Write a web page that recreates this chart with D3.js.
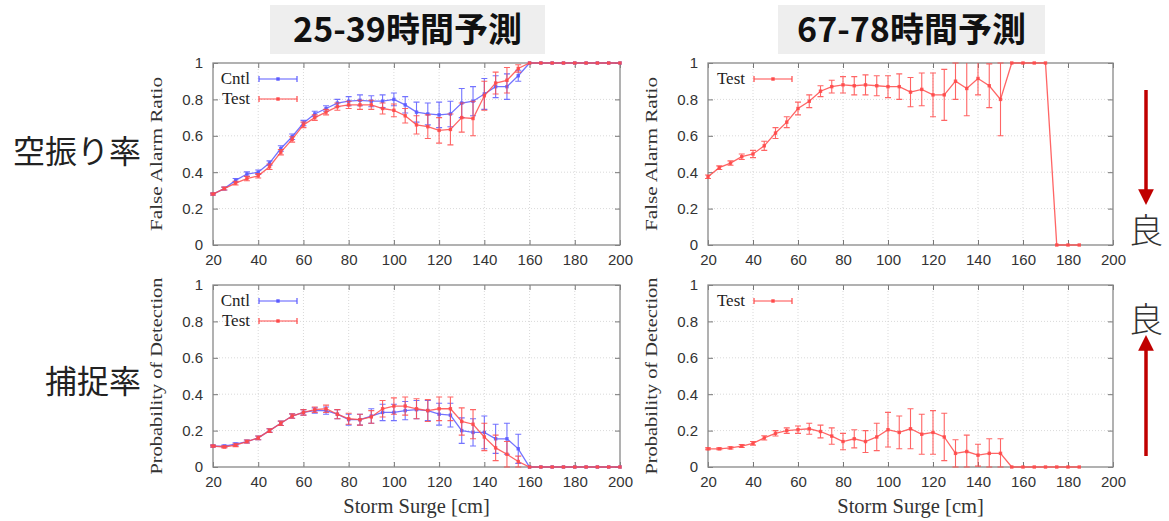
<!DOCTYPE html>
<html><head><meta charset="utf-8">
<script src="https://cdn.jsdelivr.net/npm/d3@7"></script>
<style>body{margin:0;background:#fff;}svg{display:block;}</style>
</head><body>
<svg id="c" width="1169" height="521"></svg>
<script>
// ---- data ----
const titles = ["25-39時間予測", "67-78時間予測"];
const rowLabels = ["空振り率", "捕捉率"];
const xTicks = [20, 40, 60, 80, 100, 120, 140, 160, 180, 200];
const yTicks = [0, 0.2, 0.4, 0.6, 0.8, 1];
const yTickLabels = ["0", "0.2", "0.4", "0.6", "0.8", "1"];
const xLabel = "Storm Surge [cm]";
const yLabels = ["False Alarm Ratio", "Probability of Detection"];

const surgeA = [20,25,30,35,40,45,50,55,60,65,70,75,80,85,90,95,100,105,110,115,120,125,130,135,140,145,150,155,160,165,170,175,180,185,190,195,200];
const surgeB = [20,25,30,35,40,45,50,55,60,65,70,75,80,85,90,95,100,105,110,115,120,125,130,135,140,145,150,155,160,165,170,175,180,185];

// FAR 25-39h
const farCntl = [0.28,0.31,0.355,0.39,0.40,0.45,0.53,0.595,0.67,0.72,0.75,0.78,0.79,0.795,0.79,0.79,0.80,0.77,0.73,0.72,0.715,0.72,0.78,0.79,0.83,0.87,0.87,0.93,1,1,1,1,1,1,1,1,1];
const farCntlErr = [0.005,0.008,0.01,0.012,0.012,0.012,0.015,0.015,0.015,0.015,0.015,0.02,0.025,0.03,0.03,0.035,0.035,0.045,0.055,0.06,0.07,0.07,0.08,0.08,0.085,0.06,0.07,0.03,0,0,0,0,0,0,0,0,0];
const farTest = [0.28,0.31,0.34,0.365,0.38,0.43,0.51,0.58,0.66,0.70,0.73,0.76,0.77,0.77,0.77,0.75,0.74,0.71,0.66,0.65,0.63,0.635,0.70,0.695,0.82,0.89,0.905,0.97,1,1,1,1,1,1,1,1,1];
const farTestErr = [0.005,0.008,0.01,0.012,0.012,0.015,0.015,0.015,0.015,0.015,0.015,0.02,0.02,0.025,0.025,0.03,0.035,0.04,0.05,0.065,0.07,0.085,0.08,0.095,0.08,0.06,0.07,0.02,0,0,0,0,0,0,0,0,0];
// POD 25-39h
const podCntl = [0.115,0.115,0.125,0.14,0.16,0.20,0.24,0.28,0.30,0.31,0.31,0.29,0.26,0.26,0.28,0.30,0.30,0.31,0.315,0.31,0.29,0.285,0.20,0.19,0.19,0.155,0.155,0.10,0,0,0,0,0,0,0,0,0];
const podCntlErr = [0.005,0.006,0.008,0.008,0.01,0.01,0.012,0.012,0.015,0.015,0.02,0.025,0.03,0.03,0.04,0.045,0.045,0.05,0.05,0.055,0.06,0.065,0.07,0.075,0.09,0.08,0.085,0.08,0,0,0,0,0,0,0,0,0];
const podTest = [0.115,0.11,0.12,0.14,0.16,0.20,0.24,0.28,0.30,0.315,0.32,0.29,0.265,0.26,0.275,0.32,0.335,0.335,0.32,0.31,0.32,0.32,0.25,0.235,0.165,0.105,0.07,0.03,0,0,0,0,0,0,0,0,0];
const podTestErr = [0.005,0.006,0.008,0.008,0.01,0.01,0.012,0.012,0.015,0.015,0.02,0.025,0.03,0.03,0.035,0.045,0.045,0.05,0.055,0.06,0.065,0.065,0.075,0.08,0.075,0.07,0.07,0.03,0,0,0,0,0,0,0,0,0];
// FAR 67-78h
const farTestB = [0.375,0.425,0.45,0.485,0.50,0.545,0.615,0.675,0.75,0.79,0.845,0.87,0.88,0.875,0.88,0.875,0.87,0.87,0.84,0.855,0.825,0.825,0.90,0.86,0.915,0.875,0.80,1,1,1,1,0,0,0];
const farTestBErr = [0.01,0.01,0.012,0.015,0.02,0.025,0.03,0.03,0.035,0.035,0.03,0.035,0.045,0.05,0.055,0.055,0.06,0.07,0.08,0.09,0.12,0.14,0.10,0.15,0.09,0.12,0.20,0,0,0,0,0,0,0];
// POD 67-78h
const podTestB = [0.10,0.10,0.105,0.115,0.13,0.16,0.185,0.20,0.205,0.21,0.195,0.17,0.14,0.155,0.14,0.165,0.205,0.19,0.21,0.18,0.19,0.165,0.075,0.085,0.065,0.075,0.075,0,0,0,0,0,0,0,0,0,0].slice(0,34);
const podTestBErr = [0.005,0.005,0.006,0.008,0.01,0.012,0.015,0.015,0.02,0.03,0.035,0.045,0.045,0.05,0.06,0.075,0.095,0.09,0.11,0.11,0.12,0.13,0.075,0.09,0.06,0.08,0.08,0,0,0,0,0,0,0];

const BLUE = "#5b5bff", RED = "#ff4a4a";

const svg = d3.select("#c");

// title boxes
const titleBoxes = [{x:270,w:275},{x:778,w:267}];
titles.forEach((t,i)=>{
  const b = titleBoxes[i];
  svg.append("rect").attr("x",b.x).attr("y",5).attr("width",b.w).attr("height",49).attr("fill","#eeeeee");
  svg.append("text").attr("x",b.x+b.w/2).attr("y",42).attr("text-anchor","middle")
    .attr("font-family","'Noto Sans CJK JP'").attr("font-weight","bold").attr("font-size",34)
    .attr("fill","#111").text(t);
});

// row labels
svg.append("text").attr("x",141).attr("y",163).attr("text-anchor","end")
  .attr("font-family","'Noto Sans CJK JP'").attr("font-size",32).attr("fill","#222").text(rowLabels[0]);
svg.append("text").attr("x",141).attr("y",393).attr("text-anchor","end")
  .attr("font-family","'Noto Sans CJK JP'").attr("font-size",32).attr("fill","#222").text(rowLabels[1]);

// arrows & 良
const defs = svg.append("defs");
defs.append("marker").attr("id","ah").attr("viewBox","0 0 10 10").attr("refX",3).attr("refY",5)
  .attr("markerWidth",4.5).attr("markerHeight",4.5).attr("orient","auto-start-reverse")
  .append("path").attr("d","M0,0 L10,5 L0,10 z").attr("fill","#c00000");
svg.append("line").attr("x1",1146).attr("y1",90).attr("x2",1146).attr("y2",194)
  .attr("stroke","#c00000").attr("stroke-width",3.5).attr("marker-end","url(#ah)");
svg.append("line").attr("x1",1146).attr("y1",456).attr("x2",1146).attr("y2",346)
  .attr("stroke","#c00000").attr("stroke-width",3.5).attr("marker-end","url(#ah)");
svg.append("text").attr("x",1146).attr("y",243).attr("text-anchor","middle")
  .attr("font-family","'Noto Sans CJK JP'").attr("font-weight","300").attr("font-size",34).attr("fill","#333").text("良");
svg.append("text").attr("x",1146).attr("y",332).attr("text-anchor","middle")
  .attr("font-family","'Noto Sans CJK JP'").attr("font-weight","300").attr("font-size",34).attr("fill","#333").text("良");

function panel(box, yLabel, series, showXLabel, yLabLen) {
  const x = d3.scaleLinear().domain([20,200]).range([box.l, box.r]);
  const y = d3.scaleLinear().domain([0,1]).range([box.b, box.t]);
  const g = svg.append("g");
  // grid
  g.selectAll(".gx").data(xTicks.slice(1,-1)).join("line")
    .attr("x1",d=>x(d)).attr("x2",d=>x(d)).attr("y1",box.t).attr("y2",box.b)
    .attr("stroke","#cfcfcf").attr("stroke-width",0.8).attr("stroke-dasharray","1,2");
  g.selectAll(".gy").data(yTicks.slice(1,-1)).join("line")
    .attr("y1",d=>y(d)).attr("y2",d=>y(d)).attr("x1",box.l).attr("x2",box.r)
    .attr("stroke","#cfcfcf").attr("stroke-width",0.8).attr("stroke-dasharray","1,2");
  const axB = g.append("g").attr("transform",`translate(0,${box.b})`)
    .call(d3.axisBottom(x).tickValues(xTicks).tickSize(-5).tickPadding(9).tickFormat(d3.format("d")));
  const axT = g.append("g").attr("transform",`translate(0,${box.t})`)
    .call(d3.axisTop(x).tickValues(xTicks).tickSize(-5).tickFormat(""));
  const axL = g.append("g").attr("transform",`translate(${box.l},0)`)
    .call(d3.axisLeft(y).tickValues(yTicks).tickSize(-5).tickPadding(10).tickFormat((d,i)=>yTickLabels[i]));
  const axR = g.append("g").attr("transform",`translate(${box.r},0)`)
    .call(d3.axisRight(y).tickValues(yTicks).tickSize(-5).tickFormat(""));
  [axB,axT,axL,axR].forEach(a=>{
    a.select(".domain").remove();
    a.selectAll("line").attr("stroke","#777").attr("stroke-width",1);
    a.selectAll("text").attr("font-family","'Liberation Sans', Arial, sans-serif").attr("font-size",15).attr("fill","#333");
  });
  g.append("rect").attr("x",box.l).attr("y",box.t).attr("width",box.r-box.l).attr("height",box.b-box.t)
    .attr("fill","none").attr("stroke","#888").attr("stroke-width",1.3);
  const cy = (box.t+box.b)/2;
  g.append("text").attr("transform",`translate(${box.l-51},${cy}) rotate(-90)`).attr("text-anchor","middle")
    .attr("font-family","'Liberation Serif', serif").attr("font-size",17).attr("fill","#333")
    .attr("textLength",yLabLen).attr("lengthAdjust","spacingAndGlyphs").text(yLabel);
  if (showXLabel) {
    g.append("text").attr("x",(box.l+box.r)/2).attr("y",box.b+46).attr("text-anchor","middle")
      .attr("font-family","'Liberation Serif', serif").attr("font-size",20.5).attr("fill","#333").text(xLabel);
  }
  series.forEach((s,si)=>{
    const pts = s.xs.map((xv,i)=>({x:xv,v:s.vals[i],e:s.errs[i]}));
    const sg = g.append("g");
    sg.append("path").datum(pts).attr("fill","none").attr("stroke",s.color).attr("stroke-width",1.3).attr("opacity",0.85)
      .attr("d",d3.line().x(d=>x(d.x)).y(d=>y(d.v)));
    const eb = pts.filter(d=>d.e>0);
    sg.selectAll(".eb").data(eb).join("path").attr("fill","none").attr("stroke",s.color).attr("stroke-width",1.1).attr("opacity",0.85)
      .attr("d",d=>{
        const X=x(d.x), y1=y(Math.min(1,d.v+d.e)), y0=y(Math.max(0,d.v-d.e));
        const c = 3;
        let p = `M${X},${y0}L${X},${y1}`;
        if (d.v+d.e<=1) p += `M${X-c},${y1}L${X+c},${y1}`;
        p += `M${X-c},${y0}L${X+c},${y0}`;
        return p;
      });
    sg.selectAll(".pt").data(pts).join("rect").attr("x",d=>x(d.x)-1.7).attr("y",d=>y(d.v)-1.7)
      .attr("width",3.4).attr("height",3.4).attr("fill",s.color).attr("opacity",0.9);
    const ly = box.t + 16 + si*20;
    g.append("text").attr("x",box.l+37).attr("y",ly+5).attr("text-anchor","end")
      .attr("font-family","'Liberation Serif', serif").attr("font-size",17).attr("fill","#222").text(s.name);
    const lx0 = box.l+46, lx1 = box.l+84;
    g.append("path").attr("fill","none").attr("stroke",s.color).attr("stroke-width",1.2)
      .attr("d",`M${lx0},${ly}L${lx1},${ly}M${lx0},${ly-3}L${lx0},${ly+3}M${lx1},${ly-3}L${lx1},${ly+3}`);
    g.append("rect").attr("x",(lx0+lx1)/2-1.7).attr("y",ly-1.7).attr("width",3.4).attr("height",3.4).attr("fill",s.color);
  });
}

panel({l:213,r:620,t:63,b:245}, yLabels[0], [
  {name:"Cntl", xs:surgeA, vals:farCntl, errs:farCntlErr, color:BLUE},
  {name:"Test", xs:surgeA, vals:farTest, errs:farTestErr, color:RED}], false, 154);
panel({l:708,r:1113,t:63,b:245}, yLabels[0], [
  {name:"Test", xs:surgeB, vals:farTestB, errs:farTestBErr, color:RED}], false, 154);
panel({l:213,r:620,t:285,b:467}, yLabels[1], [
  {name:"Cntl", xs:surgeA, vals:podCntl, errs:podCntlErr, color:BLUE},
  {name:"Test", xs:surgeA, vals:podTest, errs:podTestErr, color:RED}], true, 197);
panel({l:708,r:1113,t:285,b:467}, yLabels[1], [
  {name:"Test", xs:surgeB, vals:podTestB, errs:podTestBErr, color:RED}], true, 197);
</script>
</body></html>
